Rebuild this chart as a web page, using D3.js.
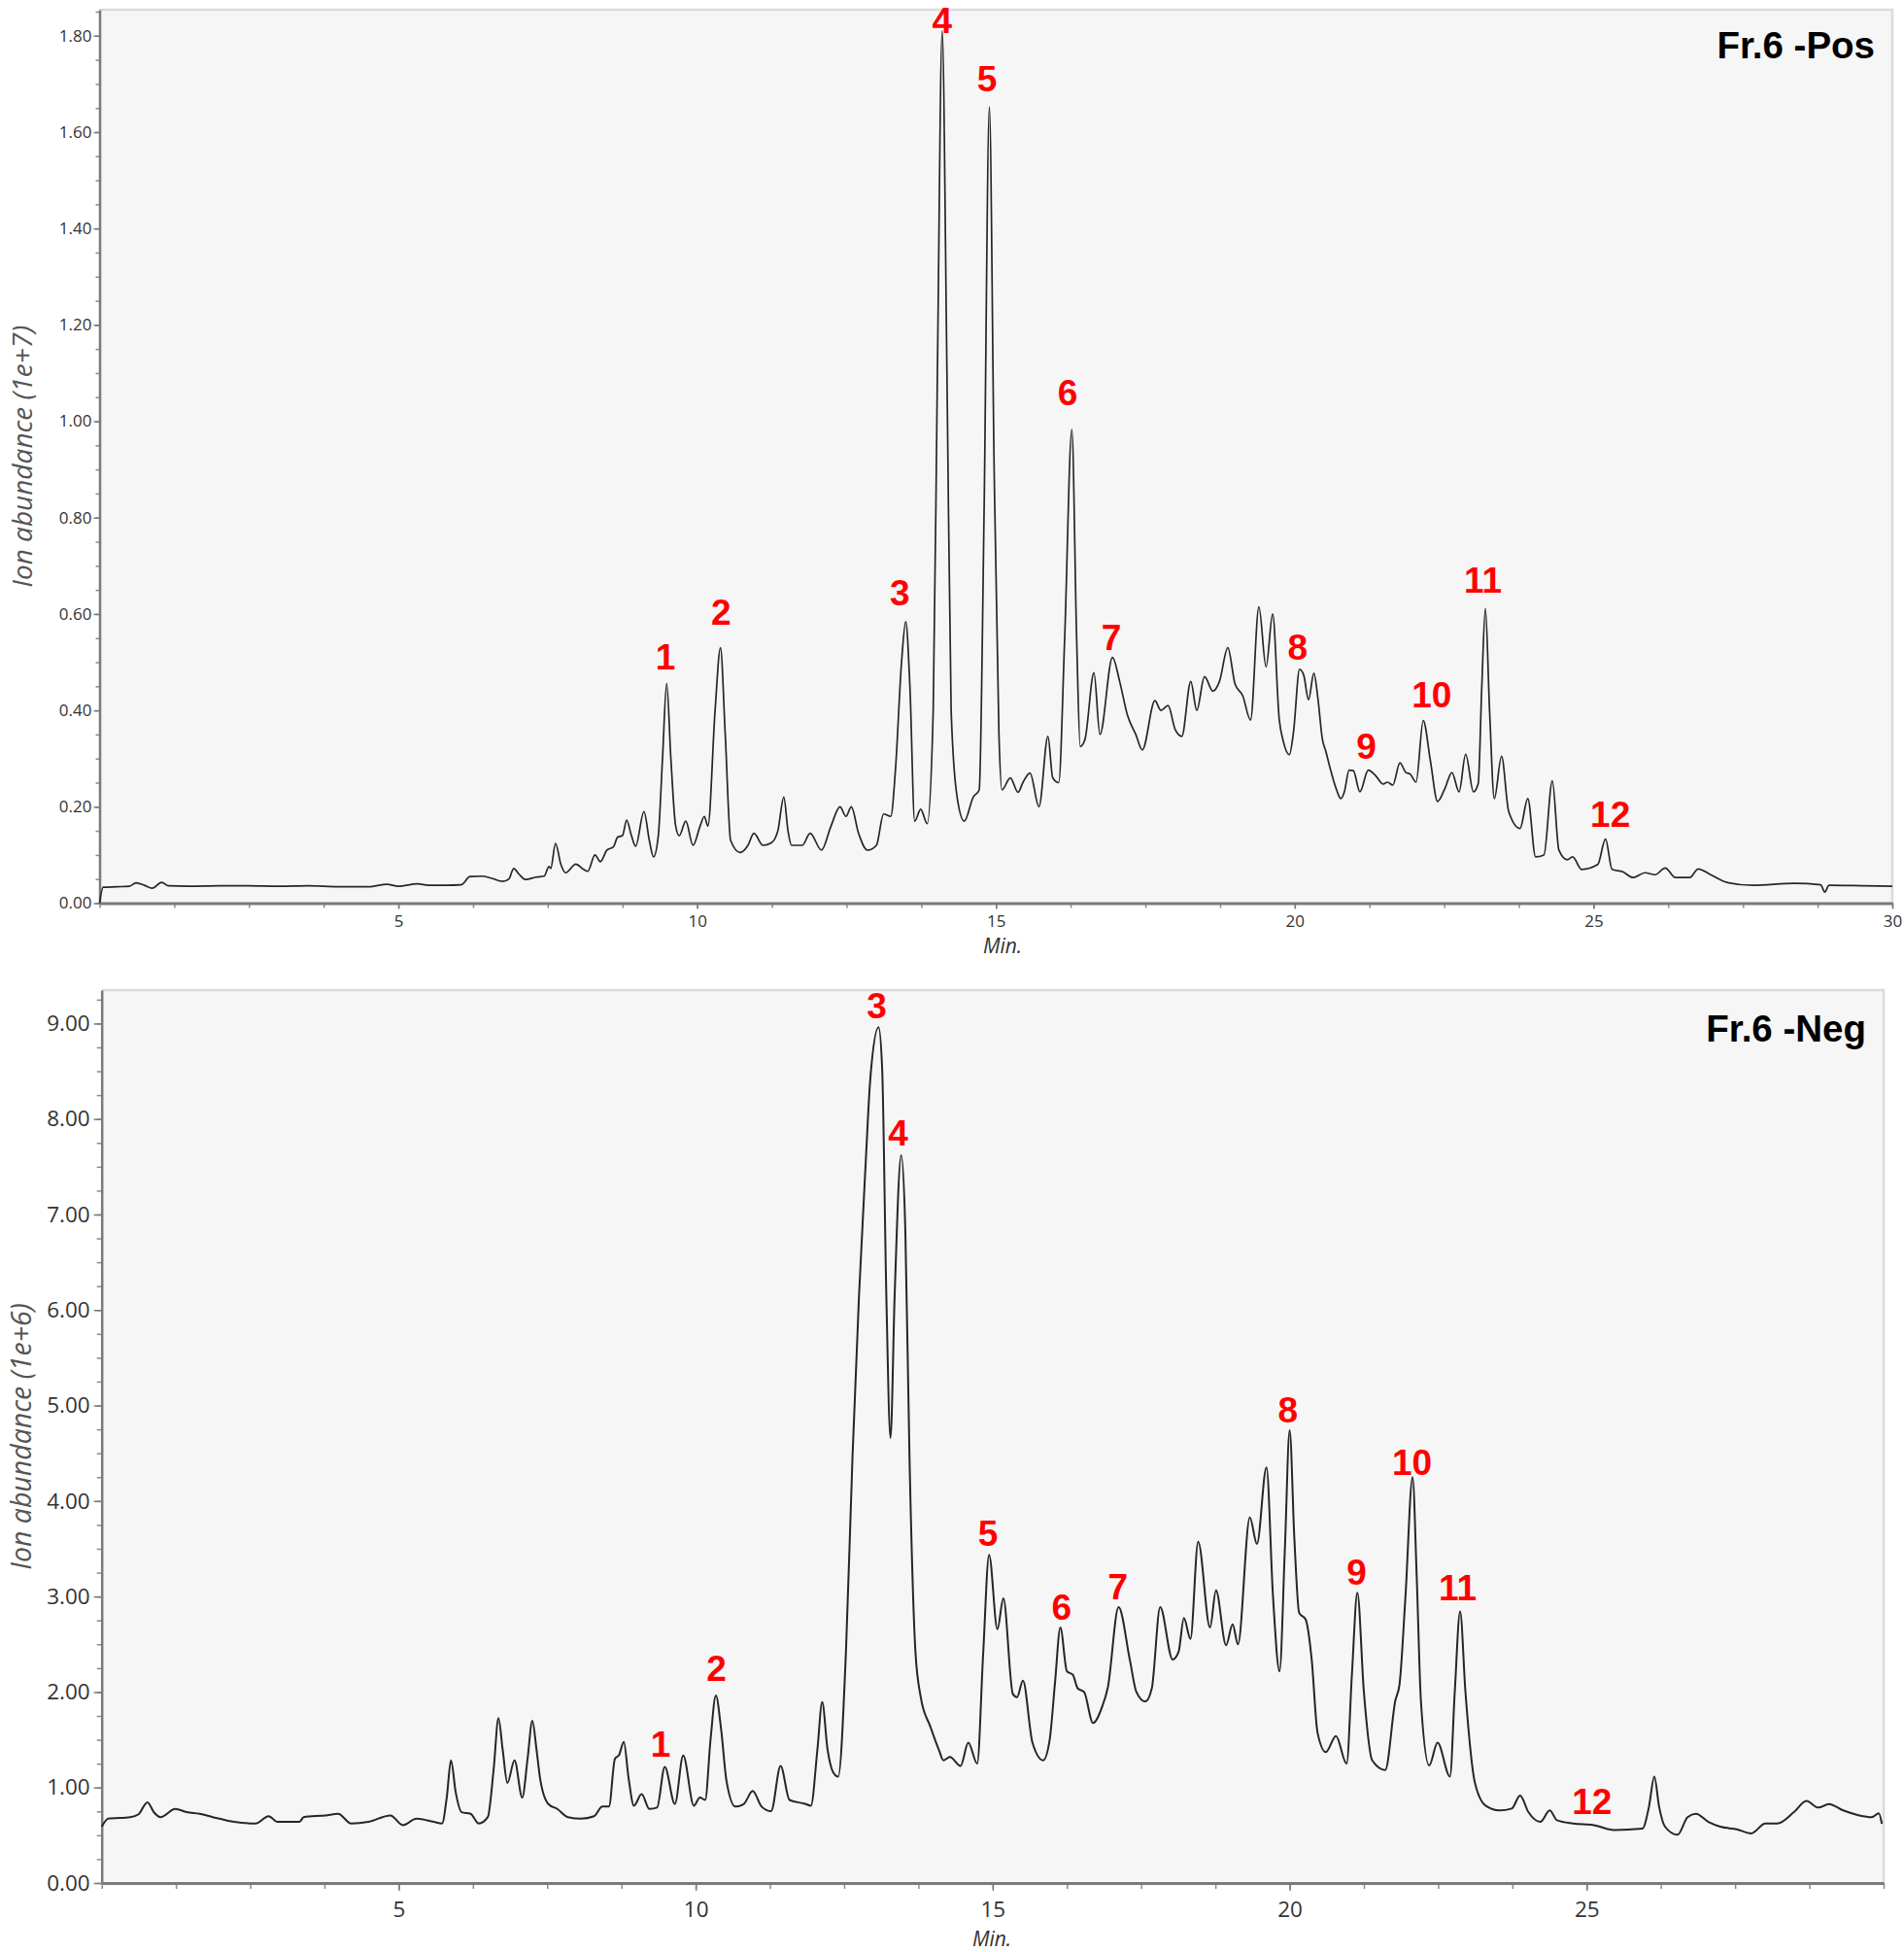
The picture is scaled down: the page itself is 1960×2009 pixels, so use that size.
<!DOCTYPE html>
<html>
<head>
<meta charset="utf-8">
<script src="https://cdn.jsdelivr.net/npm/d3@7"></script>
<style>
  html, body { margin: 0; padding: 0; background: #ffffff; }
  svg { display: block; }
</style>
</head>
<body>
<svg id="chart" width="1960" height="2009"></svg>
<script>
// ---------------- DATA ----------------
// Fr.6 -Pos trace: retention time (min)
const posTime = [0,0.06,0.3,0.5,0.61,0.75,0.88,1.04,1.15,1.5,2.0,2.5,3.0,3.5,4.0,4.5,4.81,5.0,5.32,5.5,5.8,6.05,6.2,6.4,6.55,6.75,6.85,6.93,7.02,7.13,7.3,7.44,7.52,7.55,7.63,7.72,7.8,7.97,8.1,8.17,8.29,8.38,8.49,8.6,8.67,8.75,8.82,8.9,8.97,9.11,9.2,9.27,9.35,9.42,9.49,9.56,9.64,9.7,9.81,9.93,10.05,10.12,10.18,10.3,10.39,10.47,10.56,10.72,10.85,10.95,11.1,11.24,11.35,11.45,11.52,11.58,11.76,11.89,12.08,12.24,12.39,12.49,12.58,12.7,12.85,13.0,13.12,13.24,13.32,13.42,13.49,13.56,13.64,13.74,13.85,13.95,14.02,14.1,14.18,14.25,14.35,14.47,14.62,14.72,14.8,14.89,14.97,15.05,15.1,15.24,15.37,15.45,15.57,15.72,15.87,15.95,16.05,16.15,16.27,16.35,16.41,16.49,16.64,16.74,16.95,17.07,17.2,17.34,17.45,17.66,17.76,17.88,18.0,18.11,18.26,18.36,18.49,18.63,18.74,18.88,19.0,19.13,19.26,19.4,19.52,19.63,19.74,19.81,19.91,19.98,20.08,20.15,20.23,20.32,20.39,20.46,20.52,20.59,20.7,20.77,20.83,20.91,20.98,21.09,21.23,21.35,21.48,21.55,21.64,21.76,21.86,21.93,22.03,22.15,22.27,22.39,22.51,22.63,22.75,22.86,22.99,23.07,23.13,23.19,23.26,23.34,23.46,23.58,23.77,23.9,24.03,24.17,24.31,24.42,24.56,24.65,24.8,25.07,25.2,25.31,25.49,25.66,25.86,26.03,26.2,26.37,26.61,26.75,26.96,27.23,27.67,28.36,28.8,28.87,28.94,29.5,30];
// Fr.6 -Pos trace: ion abundance (1e+7)
const posAbund = [0,0.033,0.034,0.035,0.042,0.037,0.031,0.043,0.036,0.035,0.036,0.036,0.035,0.036,0.034,0.034,0.039,0.035,0.04,0.037,0.037,0.038,0.055,0.056,0.052,0.045,0.05,0.072,0.06,0.049,0.054,0.056,0.076,0.072,0.124,0.08,0.063,0.081,0.07,0.066,0.1,0.086,0.11,0.117,0.137,0.14,0.172,0.14,0.118,0.19,0.13,0.096,0.14,0.3,0.456,0.3,0.16,0.14,0.17,0.12,0.16,0.18,0.16,0.4,0.53,0.35,0.13,0.105,0.12,0.145,0.12,0.125,0.15,0.22,0.15,0.12,0.12,0.145,0.11,0.16,0.2,0.18,0.2,0.145,0.11,0.12,0.185,0.18,0.28,0.5,0.584,0.45,0.17,0.195,0.165,0.4,1.1,1.81,1.1,0.4,0.22,0.17,0.22,0.235,0.8,1.652,0.9,0.35,0.235,0.26,0.23,0.25,0.27,0.2,0.346,0.26,0.25,0.55,0.983,0.55,0.325,0.34,0.478,0.35,0.51,0.46,0.39,0.35,0.318,0.42,0.4,0.41,0.36,0.346,0.46,0.4,0.47,0.44,0.46,0.53,0.455,0.43,0.38,0.615,0.49,0.6,0.382,0.335,0.308,0.356,0.485,0.473,0.422,0.477,0.422,0.342,0.315,0.281,0.235,0.217,0.231,0.276,0.275,0.231,0.276,0.265,0.247,0.251,0.245,0.291,0.271,0.268,0.251,0.379,0.295,0.211,0.237,0.271,0.231,0.309,0.231,0.248,0.45,0.612,0.4,0.217,0.305,0.19,0.155,0.217,0.096,0.1,0.254,0.11,0.09,0.096,0.07,0.08,0.133,0.07,0.065,0.053,0.063,0.059,0.073,0.053,0.053,0.071,0.059,0.043,0.037,0.041,0.038,0.023,0.037,0.036,0.035];

// Fr.6 -Neg trace: retention time (min)
const negTime = [0,0.11,0.48,0.62,0.77,0.88,0.99,1.24,1.43,1.65,1.87,2.23,2.59,2.81,2.96,3.33,3.4,3.77,3.98,4.2,4.49,4.86,5.07,5.3,5.59,5.73,5.81,5.88,5.96,6.06,6.21,6.35,6.5,6.6,6.68,6.75,6.83,6.95,7.08,7.17,7.25,7.32,7.38,7.52,7.67,7.85,8.07,8.29,8.43,8.54,8.64,8.71,8.79,8.87,8.96,9.09,9.22,9.35,9.48,9.65,9.79,9.97,10.07,10.16,10.25,10.34,10.43,10.52,10.67,10.81,10.96,11.11,11.27,11.43,11.58,11.84,11.94,12.05,12.13,12.22,12.31,12.4,12.53,12.64,12.75,12.86,12.94,13.08,13.14,13.21,13.28,13.35,13.46,13.53,13.6,13.7,13.79,13.95,14.1,14.17,14.28,14.46,14.59,14.74,14.84,14.94,15.08,15.18,15.34,15.41,15.51,15.67,15.85,15.96,16.05,16.14,16.25,16.35,16.43,16.54,16.69,16.84,16.94,17.12,17.31,17.42,17.57,17.68,17.82,18.03,18.13,18.22,18.33,18.46,18.66,18.76,18.93,19.04,19.13,19.33,19.45,19.61,19.72,19.83,19.92,20.0,20.08,20.16,20.27,20.37,20.47,20.61,20.78,20.96,21.05,21.14,21.25,21.39,21.61,21.78,21.85,21.95,22.07,22.14,22.21,22.35,22.49,22.7,22.78,22.87,22.96,23.12,23.3,23.53,23.74,23.88,24.02,24.22,24.38,24.5,24.77,25.12,25.46,25.94,26.05,26.14,26.22,26.32,26.53,26.7,26.84,27.05,27.25,27.53,27.77,28.01,28.21,28.49,28.7,28.9,29.08,29.32,29.59,29.8,29.92,29.97];
// Fr.6 -Neg trace: ion abundance (1e+6)
const negAbund = [0.59,0.674,0.69,0.72,0.844,0.74,0.69,0.776,0.742,0.725,0.69,0.64,0.623,0.7,0.64,0.64,0.69,0.708,0.725,0.623,0.64,0.708,0.606,0.674,0.64,0.623,0.9,1.285,0.95,0.742,0.725,0.623,0.69,1.2,1.726,1.4,1.047,1.285,0.895,1.3,1.7,1.4,1.098,0.827,0.776,0.69,0.674,0.7,0.8,0.8,1.3,1.34,1.478,1.1,0.81,0.93,0.776,0.79,1.217,0.827,1.335,0.81,0.895,0.87,1.5,1.963,1.6,1.065,0.8,0.827,0.963,0.8,0.752,1.227,0.87,0.83,0.81,1.4,1.895,1.4,1.166,1.115,2.42,4.455,6.15,7.51,8.42,8.96,8.52,6.15,4.66,6.15,7.62,6.83,4.455,2.42,1.945,1.64,1.386,1.285,1.32,1.227,1.47,1.25,2.4,3.437,2.657,2.98,1.98,1.946,2.12,1.47,1.285,1.5,2.1,2.675,2.217,2.18,2.04,2.0,1.675,1.84,2.05,2.89,2.336,2.0,1.9,2.04,2.89,2.34,2.42,2.776,2.556,3.573,2.675,3.064,2.49,2.71,2.5,3.827,3.55,4.353,3.0,2.217,3.5,4.742,3.6,2.83,2.76,2.35,1.573,1.37,1.54,1.25,2.2,3.04,2.0,1.285,1.183,1.912,2.08,3.0,4.25,3.2,1.91,1.23,1.47,1.115,2.0,2.844,2.0,1.047,0.81,0.76,0.78,0.915,0.742,0.64,0.76,0.657,0.623,0.606,0.555,0.57,0.8,1.115,0.8,0.59,0.505,0.69,0.725,0.64,0.59,0.562,0.52,0.623,0.623,0.742,0.86,0.79,0.827,0.76,0.708,0.69,0.73,0.62];

// Peak labels
const peakNames = ["1","2","3","4","5","6","7","8","9","10","11","12"];
const posLabelTime = [9.47,10.40,13.39,14.10,14.85,16.20,16.93,20.05,21.20,22.29,23.15,25.28];
const posLabelAbund = [0.511,0.604,0.644,1.832,1.711,1.061,0.553,0.531,0.326,0.434,0.672,0.186];
const negLabelTime = [9.41,10.35,13.05,13.41,14.92,16.16,17.11,19.97,21.13,22.06,22.83,25.09];
const negLabelAbund = [1.454,2.248,9.19,7.86,3.67,2.89,3.11,4.96,3.26,4.41,3.10,0.854];

// Axis tick values
const xTickLabels = [5,10,15,20,25,30];
const posYTicks = [0,0.2,0.4,0.6,0.8,1.0,1.2,1.4,1.6,1.8];
const negYTicks = [0,1,2,3,4,5,6,7,8,9];

const panelTitles = ["Fr.6 -Pos","Fr.6 -Neg"];
const yTitles = ["Ion abundance (1e+7)","Ion abundance (1e+6)"];
const xTitle = "Min.";

// ---------------- DRAW ----------------
const svg = d3.select("#chart");

function drawPanel(cfg) {
  const x = d3.scaleLinear().domain([0, 30]).range([cfg.left, cfg.right]);
  const y = d3.scaleLinear().domain([0, cfg.yMax]).range([cfg.bottom, cfg.top]);
  const g = svg.append("g");

  // plot background + light frame
  g.append("rect")
    .attr("x", cfg.left).attr("y", cfg.top)
    .attr("width", cfg.right - cfg.left).attr("height", cfg.bottom - cfg.top)
    .attr("fill", "#f6f6f6");
  g.append("path")
    .attr("d", `M${cfg.left},${cfg.top}H${cfg.right}V${cfg.bottom}`)
    .attr("fill", "none").attr("stroke", "#dcdcdc").attr("stroke-width", 2.5);

  // minor ticks
  const yMinor = d3.range(0, cfg.yMax + 1e-9, cfg.yMinorStep);
  g.append("g")
    .attr("transform", `translate(${cfg.left},0)`)
    .call(d3.axisLeft(y).tickValues(yMinor).tickSize(cfg.minorTick).tickFormat(""))
    .call(a => a.select(".domain").remove())
    .call(a => a.selectAll("line").attr("stroke", "#8a8a8a").attr("stroke-width", 1.5));
  const xMinor = d3.range(0, 30.001, 1.25);
  g.append("g")
    .attr("transform", `translate(0,${cfg.bottom})`)
    .call(d3.axisBottom(x).tickValues(xMinor).tickSize(cfg.minorTick + 1).tickFormat(""))
    .call(a => a.select(".domain").remove())
    .call(a => a.selectAll("line").attr("stroke", "#8a8a8a").attr("stroke-width", 1.5));

  // major y axis
  g.append("g")
    .attr("transform", `translate(${cfg.left},0)`)
    .call(d3.axisLeft(y).tickValues(cfg.yTicks).tickSize(cfg.majorTick)
      .tickPadding(cfg.yPad).tickFormat(d3.format(".2f")).tickSizeOuter(0))
    .call(a => a.select(".domain").attr("stroke", "#7a7a7a").attr("stroke-width", 2.5))
    .call(a => a.selectAll("line").attr("stroke", "#7a7a7a").attr("stroke-width", 1.5))
    .call(a => a.selectAll("text")
      .attr("font-family", "'Open Sans', sans-serif")
      .attr("font-size", cfg.tickFont).attr("fill", "#333"));

  // major x axis
  g.append("g")
    .attr("transform", `translate(0,${cfg.bottom})`)
    .call(d3.axisBottom(x).tickValues(cfg.xTicks).tickSize(cfg.majorTick)
      .tickPadding(cfg.xPad).tickFormat(d3.format("d")).tickSizeOuter(0))
    .call(a => a.select(".domain").attr("stroke", "#7a7a7a").attr("stroke-width", 3))
    .call(a => a.selectAll("line").attr("stroke", "#7a7a7a").attr("stroke-width", 1.5))
    .call(a => a.selectAll("text")
      .attr("font-family", "'Open Sans', sans-serif")
      .attr("font-size", cfg.tickFont).attr("fill", "#333"));

  // trace
  const pts = cfg.time.map((t, i) => [t, cfg.abund[i]]);
  const line = d3.line().x(d => x(d[0])).y(d => y(d[1])).curve(d3.curveMonotoneX);
  g.append("path")
    .datum(pts)
    .attr("d", line)
    .attr("fill", "none")
    .attr("stroke", "#262626")
    .attr("stroke-width", cfg.lineWidth)
    .attr("stroke-linejoin", "round");

  // peak labels
  g.append("g").selectAll("text")
    .data(peakNames)
    .join("text")
    .attr("x", (d, i) => x(cfg.labelTime[i]))
    .attr("y", (d, i) => y(cfg.labelAbund[i]))
    .attr("dy", "0.36em")
    .attr("text-anchor", "middle")
    .attr("font-family", "'Liberation Sans', Arial, sans-serif")
    .attr("font-weight", "bold")
    .attr("font-size", 37)
    .attr("fill", "#ff0000")
    .text(d => d);

  // panel title
  g.append("text")
    .attr("x", cfg.titleX).attr("y", cfg.titleY)
    .attr("text-anchor", "end")
    .attr("font-family", "'Liberation Sans', Arial, sans-serif")
    .attr("font-weight", "bold")
    .attr("font-size", 38.5)
    .attr("fill", "#000")
    .text(cfg.title);

  // y title
  g.append("text")
    .attr("transform", `translate(${cfg.yTitleX},${(cfg.top + cfg.bottom) / 2}) rotate(-90)`)
    .attr("text-anchor", "middle")
    .attr("font-family", "'Open Sans', sans-serif")
    .attr("font-style", "italic")
    .attr("font-size", cfg.yTitleFont)
    .attr("fill", "#555")
    .text(cfg.yTitle);

  // x title
  g.append("text")
    .attr("x", cfg.xTitleX).attr("y", cfg.xTitleY)
    .attr("text-anchor", "middle")
    .attr("font-family", "'Open Sans', sans-serif")
    .attr("font-style", "italic")
    .attr("font-size", cfg.xTitleFont)
    .attr("fill", "#333")
    .text(xTitle);
}

drawPanel({
  left: 102.5, right: 1948, top: 10, bottom: 929.5, yMax: 1.854,
  yTicks: posYTicks, yMinorStep: 0.05, xTicks: xTickLabels,
  majorTick: 6, minorTick: 4, yPad: 2, xPad: 6, tickFont: 17,
  time: posTime, abund: posAbund, lineWidth: 1.7,
  labelTime: posLabelTime, labelAbund: posLabelAbund,
  title: panelTitles[0], titleX: 1930, titleY: 60,
  yTitle: yTitles[0], yTitleX: 33, yTitleFont: 28,
  xTitleX: 1032, xTitleY: 981, xTitleFont: 21
});

drawPanel({
  left: 104.7, right: 1939, top: 1019, bottom: 1938, yMax: 9.35,
  yTicks: negYTicks, yMinorStep: 0.25, xTicks: xTickLabels.filter(v => v < 30),
  majorTick: 8, minorTick: 5, yPad: 4, xPad: 11, tickFont: 22.5,
  time: negTime, abund: negAbund, lineWidth: 2,
  labelTime: negLabelTime, labelAbund: negLabelAbund,
  title: panelTitles[1], titleX: 1921, titleY: 1072,
  yTitle: yTitles[1], yTitleX: 32, yTitleFont: 28.5,
  xTitleX: 1021, xTitleY: 2003, xTitleFont: 21
});
</script>
</body>
</html>
